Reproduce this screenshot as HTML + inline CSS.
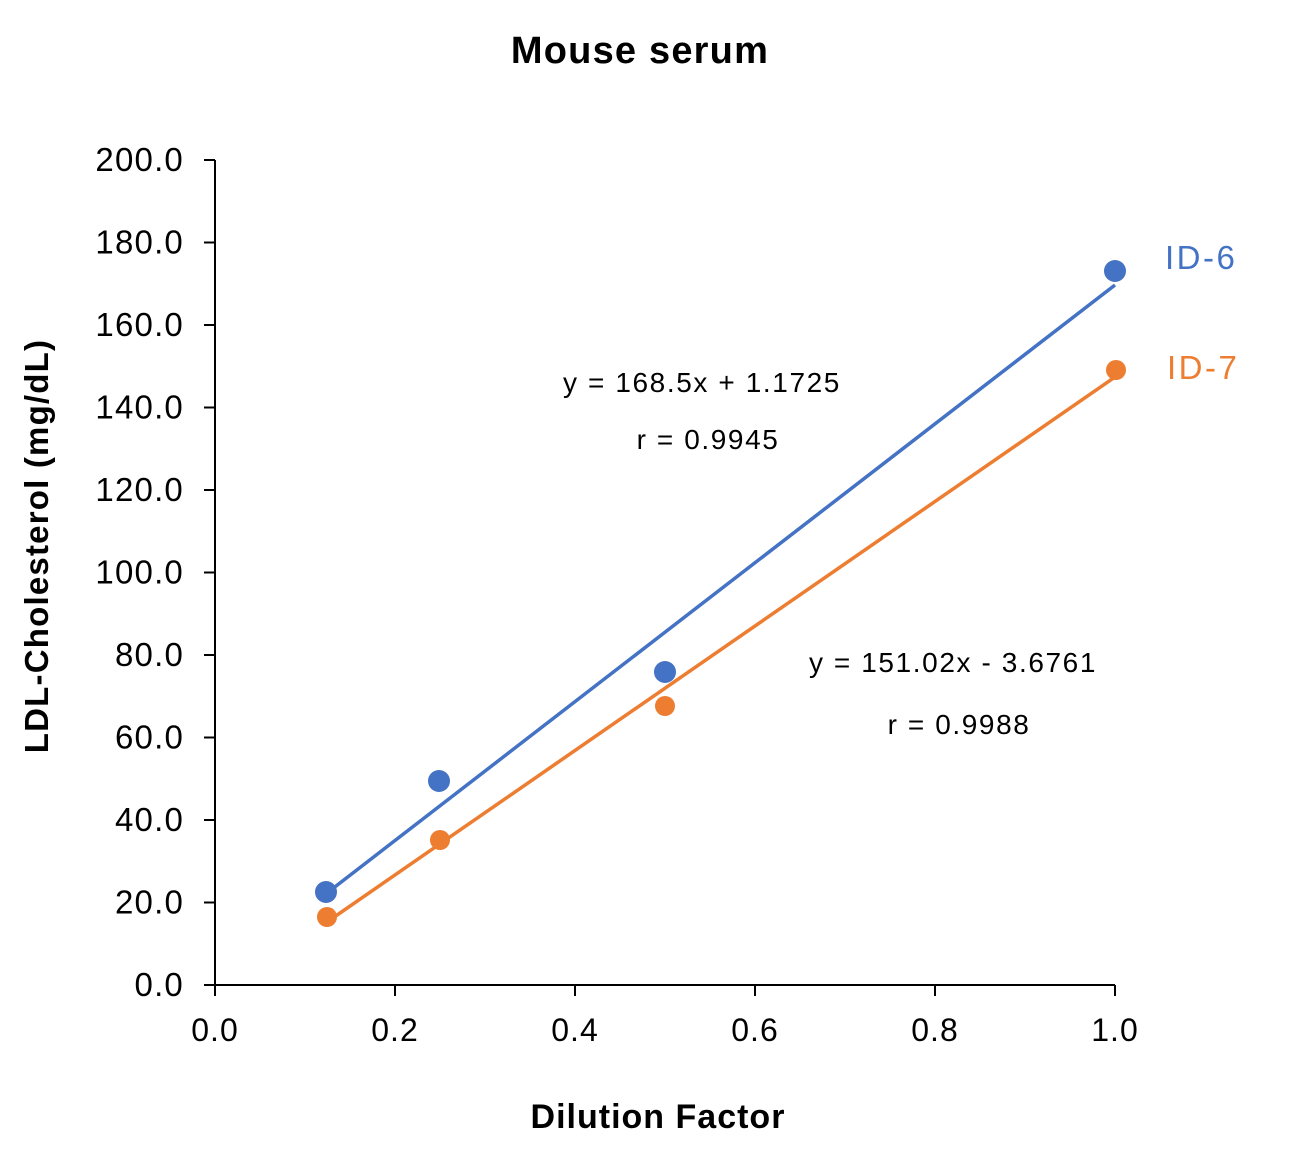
<!DOCTYPE html>
<html><head><meta charset="utf-8"><style>body{margin:0;background:#fff}</style></head>
<body>
<svg width="1300" height="1150" xmlns="http://www.w3.org/2000/svg" font-family="Liberation Sans, sans-serif">
<rect width="1300" height="1150" fill="#fff"/>
<text x="640" y="63" text-anchor="middle" font-size="38" font-weight="bold" letter-spacing="1.2" fill="#000">Mouse serum</text>
<g stroke="#000" stroke-width="2">
<line x1="215" y1="160" x2="215" y2="985"/>
<line x1="215" y1="985" x2="1115" y2="985"/>
<line x1="204" y1="160" x2="215" y2="160"/><line x1="204" y1="242.5" x2="215" y2="242.5"/>
<line x1="204" y1="325" x2="215" y2="325"/><line x1="204" y1="407.5" x2="215" y2="407.5"/>
<line x1="204" y1="490" x2="215" y2="490"/><line x1="204" y1="572.5" x2="215" y2="572.5"/>
<line x1="204" y1="655" x2="215" y2="655"/><line x1="204" y1="737.5" x2="215" y2="737.5"/>
<line x1="204" y1="820" x2="215" y2="820"/><line x1="204" y1="902.5" x2="215" y2="902.5"/>
<line x1="204" y1="985" x2="215" y2="985"/>
<line x1="215" y1="985" x2="215" y2="996"/><line x1="395" y1="985" x2="395" y2="996"/>
<line x1="575" y1="985" x2="575" y2="996"/><line x1="755" y1="985" x2="755" y2="996"/>
<line x1="935" y1="985" x2="935" y2="996"/><line x1="1115" y1="985" x2="1115" y2="996"/>
</g>
<g font-size="33" letter-spacing="1.2" text-anchor="end" fill="#000">
<text x="184" y="171">200.0</text><text x="184" y="253.5">180.0</text><text x="184" y="336">160.0</text>
<text x="184" y="418.5">140.0</text><text x="184" y="501">120.0</text><text x="184" y="583.5">100.0</text>
<text x="184" y="666">80.0</text><text x="184" y="748.5">60.0</text><text x="184" y="831">40.0</text>
<text x="184" y="913.5">20.0</text><text x="184" y="996">0.0</text>
</g>
<g font-size="32" letter-spacing="1" text-anchor="middle" fill="#000">
<text x="215" y="1041">0.0</text><text x="395" y="1041">0.2</text><text x="575" y="1041">0.4</text>
<text x="755" y="1041">0.6</text><text x="935" y="1041">0.8</text><text x="1115" y="1041">1.0</text>
</g>
<text x="658" y="1128" text-anchor="middle" font-size="34" font-weight="bold" letter-spacing="1">Dilution Factor</text>
<text transform="translate(48,546) rotate(-90)" text-anchor="middle" font-size="33" font-weight="bold" letter-spacing="1.2">LDL-Cholesterol (mg/dL)</text>
<line x1="327" y1="893" x2="1115" y2="285" stroke="#4472C4" stroke-width="3.5"/>
<line x1="327" y1="922" x2="1115" y2="377" stroke="#ED7D31" stroke-width="3.5"/>
<g fill="#4472C4"><circle cx="326" cy="892" r="11"/><circle cx="439" cy="781" r="11"/><circle cx="665" cy="672" r="11"/><circle cx="1115" cy="271" r="11"/></g>
<g fill="#ED7D31"><circle cx="327" cy="917" r="10"/><circle cx="440" cy="840" r="10"/><circle cx="665" cy="706" r="10"/><circle cx="1116" cy="370" r="10"/></g>
<text x="1165" y="269" font-size="33" letter-spacing="2.5" fill="#4472C4">ID-6</text>
<text x="1167" y="379" font-size="33" letter-spacing="2.5" fill="#ED7D31">ID-7</text>
<g font-size="28" letter-spacing="1.6" text-anchor="middle" fill="#000">
<text x="702" y="392">y = 168.5x + 1.1725</text>
<text x="708" y="449">r = 0.9945</text>
<text x="953" y="672">y = 151.02x - 3.6761</text>
<text x="959" y="734">r = 0.9988</text>
</g>
</svg>
</body></html>
